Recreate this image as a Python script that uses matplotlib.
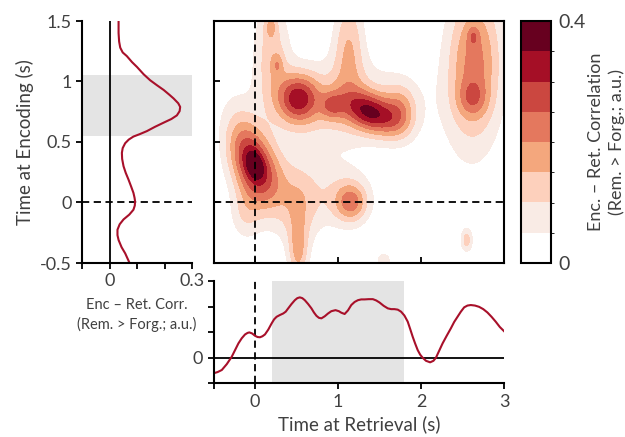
import numpy as np
import matplotlib
matplotlib.use("Agg")
import matplotlib.pyplot as plt
from matplotlib.colors import ListedColormap, BoundaryNorm

plt.rcParams['font.family'] = ['Lato', 'DejaVu Sans']
plt.rcParams['text.color'] = '#404040'
plt.rcParams['axes.labelcolor'] = '#404040'
plt.rcParams['xtick.labelcolor'] = '#404040'
plt.rcParams['ytick.labelcolor'] = '#404040'

# encoding-time marginal (left panel)
enc_t = [1.5, 1.45, 1.40, 1.33, 1.28, 1.24, 1.21, 1.16, 1.12, 1.06, 1.01, 0.97,
         0.93, 0.89, 0.86, 0.82, 0.79, 0.755, 0.72, 0.69, 0.66, 0.625, 0.59,
         0.565, 0.545, 0.52, 0.49, 0.45, 0.41, 0.36, 0.30, 0.245, 0.19, 0.13,
         0.08, 0.04, 0.01, -0.025, -0.06, -0.10, -0.14, -0.18, -0.225, -0.27,
         -0.31, -0.37, -0.42, -0.47, -0.5]
enc_val = [0.033, 0.033, 0.033, 0.035, 0.039, 0.048, 0.063, 0.082, 0.100, 0.124,
           0.148, 0.172, 0.197, 0.218, 0.233, 0.250, 0.257, 0.255, 0.245, 0.225,
           0.197, 0.165, 0.136, 0.110, 0.087, 0.070, 0.057, 0.048, 0.045, 0.046,
           0.051, 0.059, 0.069, 0.079, 0.087, 0.091, 0.093, 0.092, 0.087, 0.072,
           0.051, 0.037, 0.029, 0.029, 0.033, 0.044, 0.057, 0.067, 0.073]

# retrieval-time marginal (bottom panel)
ret_t = [-0.5, -0.45, -0.4, -0.34, -0.28, -0.24, -0.2, -0.16, -0.12, -0.09, -0.068,
         -0.035, 0.0, 0.03, 0.06, 0.09, 0.12, 0.16, 0.2, 0.23, 0.26, 0.3, 0.34, 0.37,
         0.4, 0.44, 0.48, 0.51, 0.54, 0.57, 0.6, 0.64, 0.68, 0.71, 0.74, 0.77, 0.8,
         0.84, 0.88, 0.92, 0.97, 1.01, 1.04, 1.08, 1.12, 1.16, 1.2, 1.24, 1.28, 1.32,
         1.37, 1.42, 1.46, 1.5, 1.55, 1.6, 1.64, 1.68, 1.72, 1.76, 1.8, 1.84, 1.87,
         1.9, 1.93, 1.96, 1.99, 2.02, 2.06, 2.11, 2.15, 2.18, 2.22, 2.26, 2.31, 2.36,
         2.4, 2.44, 2.48, 2.52, 2.56, 2.6, 2.65, 2.7, 2.75, 2.8, 2.85, 2.9, 2.95, 3.0]
ret_val = [-0.061, -0.056, -0.048, -0.025, 0.004, 0.030, 0.056, 0.076, 0.091, 0.097,
           0.099, 0.095, 0.086, 0.081, 0.080, 0.084, 0.091, 0.110, 0.134, 0.150,
           0.160, 0.167, 0.173, 0.180, 0.193, 0.210, 0.225, 0.233, 0.236, 0.233,
           0.225, 0.210, 0.193, 0.177, 0.164, 0.156, 0.154, 0.162, 0.173, 0.182,
           0.186, 0.182, 0.176, 0.171, 0.185, 0.206, 0.218, 0.225, 0.228, 0.228,
           0.229, 0.229, 0.224, 0.216, 0.203, 0.193, 0.190, 0.190, 0.188, 0.180,
           0.165, 0.141, 0.112, 0.082, 0.055, 0.030, 0.012, 0.0, -0.012, -0.018,
           -0.012, 0.0, 0.028, 0.056, 0.086, 0.115, 0.140, 0.160, 0.180, 0.197,
           0.204, 0.206, 0.204, 0.199, 0.190, 0.177, 0.160, 0.141, 0.120, 0.104]

enc_band = (0.55, 1.05)
ret_band = (0.2, 1.8)

# correlation map, described as smooth peaks
peak_ret = [0.0, 0.0, -0.12, 0.52, 0.93, 1.4, 1.0, 1.75,
            0.2, 0.19, 0.27, 1.13,
            2.66, 2.63, 2.62, 2.6,
            1.16, 1.0, 0.52, 0.53, -0.12, 2.55, 0.3, 1.55]
peak_enc = [0.31, 0.31, 0.45, 0.86, 0.8, 0.74, 0.82, 0.75,
            1.25, 1.46, 1.14, 1.3,
            1.25, 1.37, 0.86, 0.9,
            0.0, 0.06, -0.42, -0.1, -0.1, -0.31, 0.1, -0.48]
peak_wr = [0.17, 0.06, 0.15, 0.17, 0.1, 0.22, 0.6, 0.14,
           0.15, 0.05, 0.045, 0.13,
           0.22, 0.045, 0.12, 0.25,
           0.13, 0.3, 0.08, 0.14, 0.12, 0.05, 0.35, 0.08]
peak_we = [0.26, 0.08, 0.3, 0.14, 0.08, 0.11, 0.24, 0.15,
           0.3, 0.07, 0.06, 0.3,
           0.4, 0.055, 0.1, 0.45,
           0.11, 0.2, 0.18, 0.25, 0.15, 0.07, 0.25, 0.06]
peak_h = [0.26, 0.1, 0.07, 0.25, 0.12, 0.27, 0.12, 0.14,
          0.12, 0.08, 0.07, 0.14,
          0.15, 0.07, 0.09, 0.09,
          0.17, 0.08, 0.13, 0.08, 0.07, 0.12, 0.07, 0.07]
peak_tilt = [40, 40, 20, 0, 0, -15, 0, 0,
             0, 0, 0, 0,
             0, 0, 0, 0,
             0, 0, 0, 0, 0, 0, 0, 0]

levels = [0, 0.05, 0.1, 0.15, 0.2, 0.25, 0.3, 0.35, 0.4]
colors = ['#ffffff', '#f9ebe5', '#fdd0bc', '#f4a77d', '#e4785e', '#cb4740',
          '#a50f26', '#67001f']
red = '#a8102a'
grey = '#e4e4e4'

rr, ee = np.meshgrid(np.linspace(-0.5, 3, 351), np.linspace(-0.5, 1.5, 201))
corr = np.zeros_like(rr)
for x0, y0, sx, sy, h, a in zip(peak_ret, peak_enc, peak_wr, peak_we, peak_h, peak_tilt):
    t = np.deg2rad(a)
    u = (rr - x0) * np.cos(t) + (ee - y0) * np.sin(t)
    v = -(rr - x0) * np.sin(t) + (ee - y0) * np.cos(t)
    corr += h * np.exp(-0.5 * ((u / sx) ** 2 + (v / sy) ** 2))
corr = np.clip(corr, 0, 0.399)

fig = plt.figure(figsize=(6.25, 4.37), dpi=100)
H = 437.0
W = 625.0

def box(x0, x1, y0, y1):
    return [x0 / W, 1 - y1 / H, (x1 - x0) / W, (y1 - y0) / H]

ax_l = fig.add_axes(box(82, 192, 21, 263))
ax_m = fig.add_axes(box(213.5, 504, 21, 263))
ax_c = fig.add_axes(box(521, 551, 21, 263))
ax_b = fig.add_axes(box(213.5, 504, 281, 383.3))

# main map
cmap = ListedColormap(colors)
norm = BoundaryNorm(levels, cmap.N)
cs = ax_m.contourf(rr, ee, corr, levels=levels, cmap=cmap, norm=norm)
ax_m.axvline(0, color='black', ls=(0, (4, 2.5)), lw=1.3)
ax_m.axhline(0, color='black', ls=(0, (4, 2.5)), lw=1.3)
ax_m.set_xlim(-0.5, 3)
ax_m.set_ylim(-0.5, 1.5)
ax_m.set_xticks([0, 1, 2])
ax_m.set_yticks([0, 0.5, 1])
ax_m.tick_params(direction='in', labelbottom=False, labelleft=False, length=4, width=1.3)
for s in ax_m.spines.values():
    s.set_linewidth(1.5)

# left marginal
ax_l.axhspan(enc_band[0], enc_band[1], color=grey, lw=0)
ax_l.axvline(0, color='black', lw=1.3)
ax_l.axhline(0, color='black', ls=(0, (4, 2.5)), lw=1.3)
ax_l.plot(enc_val, enc_t, color=red, lw=1.5)
ax_l.set_xlim(-0.1, 0.3)
ax_l.set_ylim(-0.5, 1.5)
ax_l.set_xticks([-0.1, 0, 0.1, 0.2, 0.3])
ax_l.set_xticklabels(['', '0', '', '', '0.3'])
ax_l.set_yticks([-0.5, 0, 0.5, 1, 1.5])
ax_l.set_yticklabels(['-0.5', '0', '0.5', '1', '1.5'])
ax_l.spines['top'].set_visible(False)
ax_l.spines['right'].set_visible(False)
for s in ax_l.spines.values():
    s.set_linewidth(1.5)
ax_l.tick_params(length=4, width=1.3, labelsize=13)
ax_l.set_ylabel('Time at Encoding (s)', fontsize=13.5, labelpad=4)
ax_l.set_xlabel('Enc \u2013 Ret. Corr.\n(Rem. > Forg.; a.u.)', fontsize=10.5, labelpad=6,
                linespacing=1.45)

# bottom marginal
ax_b.axvspan(ret_band[0], ret_band[1], color=grey, lw=0)
ax_b.axhline(0, color='black', lw=1.3)
ax_b.axvline(0, color='black', ls=(0, (4, 2.5)), lw=1.3)
ax_b.plot(ret_t, ret_val, color=red, lw=1.5)
ax_b.set_xlim(-0.5, 3)
ax_b.set_ylim(-0.1, 0.3)
ax_b.set_xticks([-0.5, 0, 1, 2, 3])
ax_b.set_xticklabels(['', '0', '1', '2', '3'])
ax_b.set_yticks([-0.1, 0, 0.1, 0.2, 0.3])
ax_b.set_yticklabels(['', '0', '', '', ''])
ax_b.spines['top'].set_visible(False)
ax_b.spines['right'].set_visible(False)
for s in ax_b.spines.values():
    s.set_linewidth(1.5)
ax_b.tick_params(length=4, width=1.3, labelsize=13)
ax_b.set_xlabel('Time at Retrieval (s)', fontsize=13.5, labelpad=4)

# colorbar
cb = fig.colorbar(cs, cax=ax_c, ticks=[0, 0.4])
cb.ax.set_yticklabels(['0', '0.4'])
cb.ax.tick_params(length=0, labelsize=14, pad=5)
cb.outline.set_linewidth(1.5)
cb.set_label('Enc. \u2013 Ret. Correlation\n(Rem. > Forg.; a.u.)', fontsize=13,
             labelpad=2, linespacing=1.3)

fig.savefig('out.png', dpi=100)
